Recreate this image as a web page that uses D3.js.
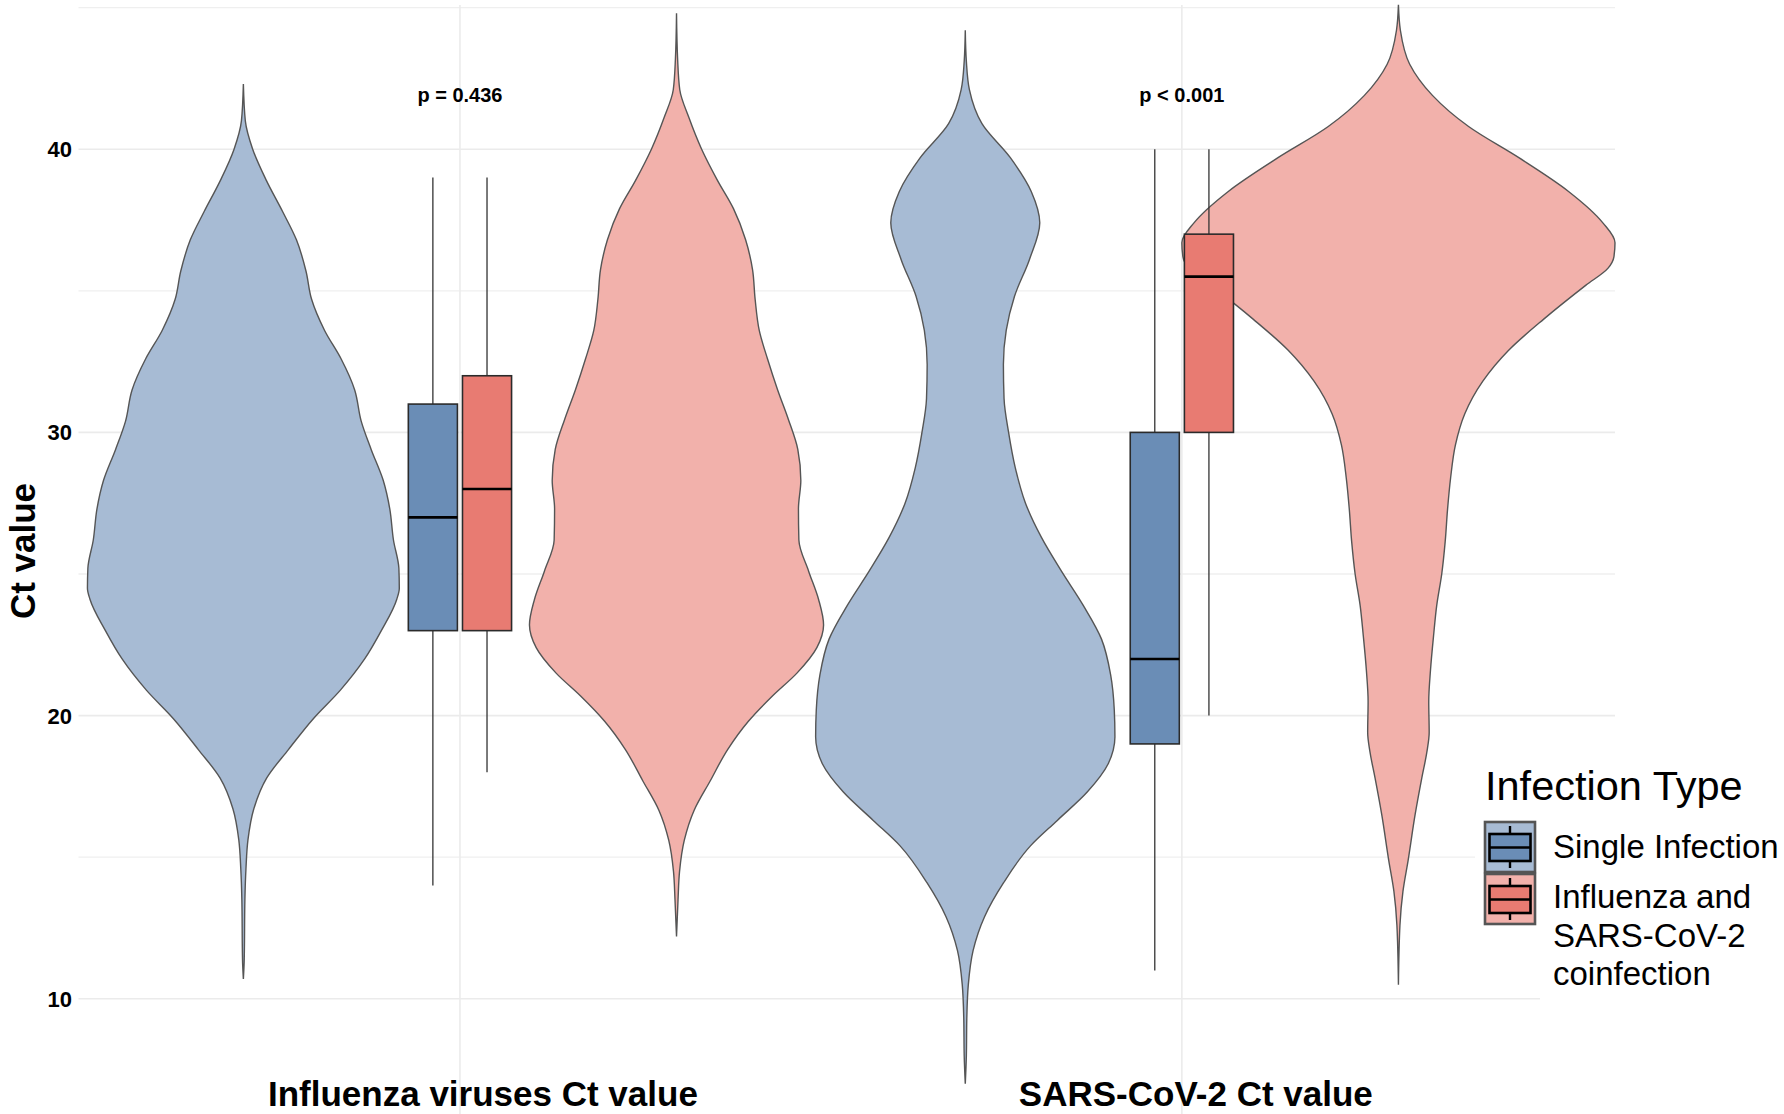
<!DOCTYPE html>
<html>
<head>
<meta charset="utf-8">
<script src="https://cdn.jsdelivr.net/npm/d3@7"></script>
<style>
  body { margin: 0; background: #fff; }
  text { font-family: "Liberation Sans", Arial, Helvetica, sans-serif; }
</style>
</head>
<body>
<script>
var width = 1784, height = 1114;

// categories and groups
var categories = ["Influenza viruses Ct value", "SARS-CoV-2 Ct value"];
var groups = ["Single Infection", "Influenza and SARS-CoV-2 coinfection"];
var legendLines = [["Single Infection"], ["Influenza and", "SARS-CoV-2", "coinfection"]];
var pLabels = ["p = 0.436", "p < 0.001"];
var yTicks = [10, 20, 30, 40];
var yMinor = [15, 25, 35, 45];

// box stats per category, [min, q1, median, q3, max]
var boxSingle = [[14, 23, 27, 31, 39], [11, 19, 22, 30, 40]];
var boxCoinf  = [[18, 23, 28, 32, 39], [20, 30, 35.5, 37, 40]];

// violin outlines: [Ct, relative density]
var violinFluSingle = [[42.3,0],[41.0,0.009],[40.0,0.043],[38.9,0.106],[37.8,0.181],[36.8,0.245],[35.7,0.289],
  [34.7,0.315],[33.6,0.375],[32.6,0.451],[31.5,0.514],[30.4,0.544],[29.4,0.590],[28.3,0.646],[27.3,0.676],
  [26.2,0.693],[25.2,0.718],[24.5,0.720],[24.1,0.708],[23.0,0.637],[22.0,0.560],[20.9,0.448],[19.9,0.324],
  [18.8,0.208],[17.8,0.108],[16.7,0.048],[15.6,0.021],[14.6,0.012],[13.5,0.007],[11.4,0.004],[10.7,0]];
var violinFluCoinf = [[44.8,0],[43.2,0.005],[42.1,0.015],[41.1,0.058],[40.0,0.116],[38.9,0.189],[37.9,0.263],
  [36.8,0.319],[35.75,0.351],[34.7,0.363],[33.6,0.382],[32.6,0.420],[31.5,0.467],[30.45,0.517],[29.4,0.560],
  [28.3,0.574],[27.3,0.563],[26.2,0.565],[25.1,0.610],[24.1,0.656],[23.2,0.679],[22.4,0.648],[21.5,0.556],
  [20.7,0.444],[19.8,0.332],[18.8,0.236],[17.7,0.156],[16.65,0.081],[15.6,0.036],[14.5,0.014],[13.5,0.007],[12.2,0]];
var violinSarsSingle = [[44.2,0],[43.1,0.005],[42.1,0.019],[40.9,0.077],[39.7,0.208],[38.5,0.305],[37.4,0.344],
  [36.1,0.296],[34.8,0.227],[33.6,0.189],[32.4,0.176],[31.2,0.179],[30.0,0.200],[28.75,0.231],[27.5,0.278],
  [26.3,0.351],[25.1,0.444],[23.9,0.544],[22.7,0.629],[21.45,0.671],[20.2,0.688],[19.25,0.691],[18.3,0.660],
  [17.3,0.563],[16.3,0.425],[15.4,0.301],[14.1,0.177],[12.9,0.089],[11.7,0.036],[10.5,0.014],[9.3,0.007],[8.0,0.005],[7.0,0]];
var violinSarsCoinf = [[45.1,0],[44.2,0.009],[43.0,0.052],[41.9,0.157],[40.8,0.324],[39.7,0.556],[38.5,0.787],
  [37.4,0.944],[36.7,1.0],[36.2,0.995],[35.8,0.968],[35.2,0.866],[34.0,0.671],[32.9,0.509],[31.8,0.389],[30.65,0.306],
  [29.55,0.263],[28.4,0.241],[27.3,0.227],[26.15,0.216],[25.0,0.200],[23.9,0.177],[22.8,0.162],[21.6,0.148],
  [20.5,0.140],[19.4,0.142],[18.7,0.131],[17.8,0.108],[16.5,0.077],[14.9,0.045],[13.8,0.021],[12.6,0.007],[10.5,0]];

var violins = [
  {cat: 0, grp: 0, pts: violinFluSingle},
  {cat: 0, grp: 1, pts: violinFluCoinf},
  {cat: 1, grp: 0, pts: violinSarsSingle},
  {cat: 1, grp: 1, pts: violinSarsCoinf}
];
var boxes = [
  {cat: 0, grp: 0, s: boxSingle[0]}, {cat: 0, grp: 1, s: boxCoinf[0]},
  {cat: 1, grp: 0, s: boxSingle[1]}, {cat: 1, grp: 1, s: boxCoinf[1]}
];

var violinFill = ["#a7bbd4", "#f2b1ab"];
var boxFill = ["#6a8db6", "#e87b72"];

var svg = d3.select("body").append("svg")
    .attr("width", width)
    .attr("height", height);

// scales
var x = d3.scalePoint()
    .domain(categories)
    .range([26.8, 1615])
    .padding(0.6);
var step = x.step();
var y = d3.scaleLinear()
    .domain([10, 40])
    .range([998.8, 149.2]);
var w = d3.scaleLinear().domain([0, 1]).range([0, 0.3 * step]);

var violinShift = [-0.3 * step, 0.3 * step];
var boxShift = [-0.0375 * step, 0.0375 * step];
var boxW = 0.068 * step;

// grid
var grid = svg.append("g");
grid.selectAll(".minor").data(yMinor).enter().append("line")
    .attr("x1", 78.5).attr("x2", 1615)
    .attr("y1", function(d) { return y(d); })
    .attr("y2", function(d) { return y(d); })
    .style("stroke", "#efefef").style("stroke-width", 1.3);
grid.selectAll(".major").data(yTicks).enter().append("line")
    .attr("x1", 78.5).attr("x2", 1615)
    .attr("y1", function(d) { return y(d); })
    .attr("y2", function(d) { return y(d); })
    .style("stroke", "#ebebeb").style("stroke-width", 1.6);
grid.selectAll(".vert").data(categories).enter().append("line")
    .attr("x1", function(d) { return x(d); })
    .attr("x2", function(d) { return x(d); })
    .attr("y1", 5).attr("y2", height)
    .style("stroke", "#ebebeb").style("stroke-width", 1.6);

// violins
var area = d3.area()
    .y(function(d) { return y(d[0]); })
    .curve(d3.curveMonotoneY);

svg.append("g").selectAll("path").data(violins).enter().append("path")
    .attr("d", function(v) {
      var cx = x(categories[v.cat]) + violinShift[v.grp];
      var pts = v.pts.slice().sort(function(a, b) { return b[0] - a[0]; });
      return area
        .x0(function(d) { return cx - w(d[1]); })
        .x1(function(d) { return cx + w(d[1]); })(pts);
    })
    .style("fill", function(v) { return violinFill[v.grp]; })
    .style("stroke", "#555")
    .style("stroke-width", 1.4);

// boxplots
var bx = svg.append("g").selectAll("g").data(boxes).enter().append("g");
function bcx(b) { return x(categories[b.cat]) + boxShift[b.grp]; }
bx.append("line")
    .attr("x1", bcx).attr("x2", bcx)
    .attr("y1", function(b) { return y(b.s[4]); })
    .attr("y2", function(b) { return y(b.s[3]); })
    .style("stroke", "#333").style("stroke-width", 1.3);
bx.append("line")
    .attr("x1", bcx).attr("x2", bcx)
    .attr("y1", function(b) { return y(b.s[1]); })
    .attr("y2", function(b) { return y(b.s[0]); })
    .style("stroke", "#333").style("stroke-width", 1.3);
bx.append("rect")
    .attr("x", function(b) { return bcx(b) - boxW / 2; })
    .attr("y", function(b) { return y(b.s[3]); })
    .attr("width", boxW)
    .attr("height", function(b) { return y(b.s[1]) - y(b.s[3]); })
    .style("fill", function(b) { return boxFill[b.grp]; })
    .style("stroke", "#2b2b2b").style("stroke-width", 1.6);
bx.append("line")
    .attr("x1", function(b) { return bcx(b) - boxW / 2; })
    .attr("x2", function(b) { return bcx(b) + boxW / 2; })
    .attr("y1", function(b) { return y(b.s[2]); })
    .attr("y2", function(b) { return y(b.s[2]); })
    .style("stroke", "#000").style("stroke-width", 2.6);

// p values
svg.selectAll(".pval").data(pLabels).enter().append("text")
    .attr("x", function(d, i) { return x(categories[i]); })
    .attr("y", 102)
    .attr("text-anchor", "middle")
    .style("font-size", "20px").style("font-weight", "bold")
    .text(function(d) { return d; });

// y axis
svg.selectAll(".ytick").data(yTicks).enter().append("text")
    .attr("x", 72)
    .attr("y", function(d) { return y(d); })
    .attr("dy", "0.36em")
    .attr("text-anchor", "end")
    .style("font-size", "22px").style("font-weight", "bold")
    .text(function(d) { return d; });
svg.append("text")
    .attr("transform", "translate(35,551) rotate(-90)")
    .attr("text-anchor", "middle")
    .style("font-size", "35px").style("font-weight", "bold")
    .text("Ct value");

// x labels
var labelShift = [23, 14];
svg.selectAll(".xlab").data(categories).enter().append("text")
    .attr("x", function(d, i) { return x(d) + labelShift[i]; })
    .attr("y", 1106)
    .attr("text-anchor", "middle")
    .style("font-size", "35px").style("font-weight", "bold")
    .text(function(d) { return d; });

// legend
var lg = svg.append("g");
lg.append("rect").attr("x", 1475).attr("y", 745).attr("width", 309).attr("height", 245).style("fill", "#fff");
lg.append("rect").attr("x", 1540).attr("y", 990).attr("width", 244).attr("height", 20).style("fill", "#fff");
lg.append("text")
    .attr("x", 1485).attr("y", 800)
    .style("font-size", "41.5px")
    .text("Infection Type");

var keys = lg.selectAll(".key").data(groups).enter().append("g")
    .attr("transform", function(d, i) { return "translate(1485," + (822 + i * 52) + ")"; });
keys.append("rect")
    .attr("width", 50).attr("height", 50)
    .style("fill", function(d, i) { return violinFill[i]; })
    .style("stroke", "#555").style("stroke-width", 2.6);
keys.append("line")
    .attr("x1", 25).attr("x2", 25).attr("y1", 4).attr("y2", 46)
    .style("stroke", "#000").style("stroke-width", 2.4);
keys.append("rect")
    .attr("x", 4.5).attr("y", 12).attr("width", 41).attr("height", 27)
    .style("fill", function(d, i) { return boxFill[i]; })
    .style("stroke", "#000").style("stroke-width", 2.6);
keys.append("line")
    .attr("x1", 4.5).attr("x2", 45.5).attr("y1", 25.5).attr("y2", 25.5)
    .style("stroke", "#000").style("stroke-width", 2.6);

var labelY = [[858], [908, 946.7, 985]];
legendLines.forEach(function(lines, i) {
  lg.selectAll(".lab" + i).data(lines).enter().append("text")
      .attr("x", 1553)
      .attr("y", function(d, j) { return labelY[i][j]; })
      .style("font-size", "33px")
      .text(function(d) { return d; });
});
</script>
</body>
</html>
